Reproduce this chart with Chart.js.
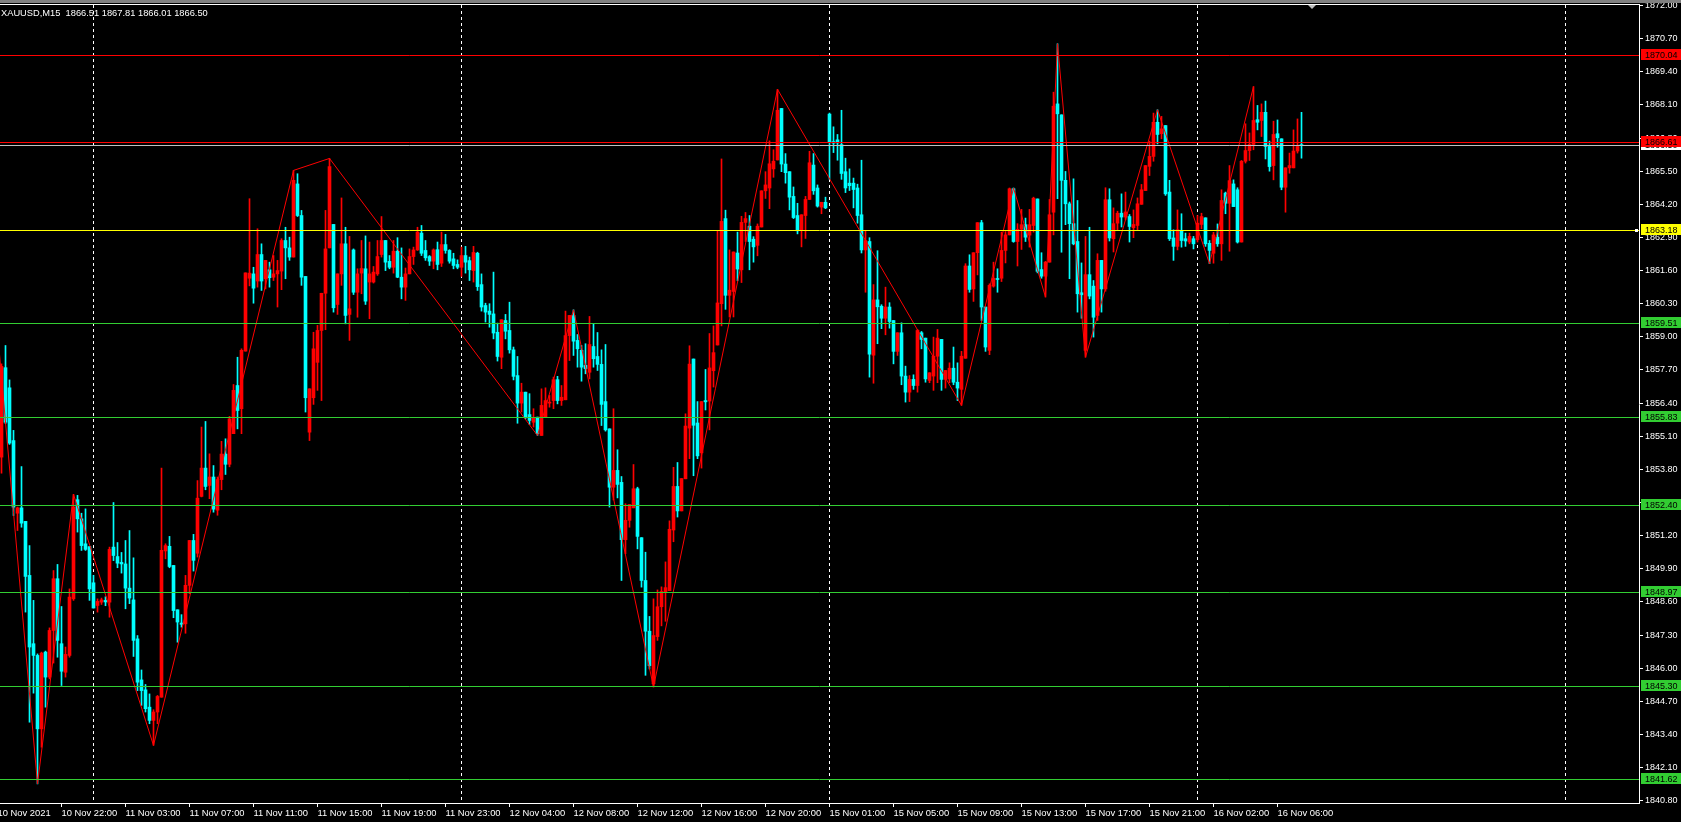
<!DOCTYPE html>
<html><head><meta charset="utf-8">
<script src="https://cdn.jsdelivr.net/npm/chart.js@4.4.0/dist/chart.umd.min.js"></script>
<style>html,body{margin:0;padding:0;background:#000;overflow:hidden}canvas{display:block}</style>
</head><body>
<canvas id="c" width="1681" height="822"></canvas>
<script>
const symbol = 'XAUUSD,M15';
const opens = [1854.28,1857.79,1857.00,1854.93,1852.08,1852.29,1851.76,1849.64,1846.96,1846.50,
1843.62,1846.63,1845.65,1847.48,1849.51,1846.96,1845.84,1846.50,1848.72,1852.61,
1851.86,1850.88,1850.77,1849.35,1848.46,1848.59,1848.66,1848.59,1850.75,1850.38,
1850.15,1850.09,1849.14,1848.68,1847.15,1845.54,1845.15,1844.47,1843.95,1844.28,
1844.86,1850.60,1850.78,1850.03,1848.29,1847.77,1847.74,1849.25,1851.01,1850.51,
1852.74,1853.85,1853.17,1853.50,1852.20,1853.40,1854.40,1854.00,1855.20,1857.09,
1856.18,1858.44,1861.30,1861.47,1861.19,1862.23,1861.28,1861.63,1861.34,1861.47,
1861.58,1862.78,1862.49,1862.13,1865.00,1863.76,1861.37,1855.26,1856.61,1858.00,
1859.25,1860.71,1862.49,1863.41,1860.27,1861.47,1862.65,1859.88,1862.41,1860.75,
1861.50,1861.67,1861.15,1861.15,1861.47,1862.23,1862.78,1861.96,1861.73,1862.36,
1861.34,1860.95,1861.47,1862.15,1862.41,1863.07,1862.39,1862.15,1861.97,1862.42,
1861.89,1862.62,1862.39,1862.06,1861.84,1861.73,1862.19,1861.99,1861.60,1862.28,
1861.05,1860.23,1860.01,1859.90,1859.18,1858.20,1859.64,1859.25,1858.49,1857.48,
1856.40,1856.83,1855.95,1855.65,1855.85,1855.13,1855.85,1856.40,1856.50,1857.32,
1856.50,1856.53,1859.05,1859.84,1858.86,1858.47,1857.88,1857.61,1858.62,1858.23,
1857.92,1856.46,1855.39,1853.10,1853.76,1853.29,1851.04,1851.80,1852.29,1853.04,
1851.12,1849.44,1847.45,1845.39,1847.24,1848.41,1848.97,1849.04,1851.42,1853.13,
1852.17,1853.43,1855.42,1858.13,1855.62,1854.45,1856.50,1856.48,1857.67,1858.68,
1860.30,1863.64,1860.63,1860.78,1862.29,1861.63,1863.49,1863.34,1862.83,1862.59,
1863.31,1864.73,1864.84,1865.59,1865.94,1867.96,1865.78,1865.48,1864.51,1863.76,
1863.19,1863.76,1864.39,1865.74,1864.84,1864.09,1864.28,1867.74,1866.66,1866.73,
1866.54,1865.48,1865.03,1865.03,1864.84,1863.79,1862.41,1862.74,1858.28,1860.45,
1860.20,1859.73,1860.17,1859.64,1858.43,1859.16,1857.46,1856.83,1857.33,1857.09,
1859.16,1858.95,1857.29,1857.46,1858.24,1858.90,1857.33,1857.35,1857.77,1857.22,
1856.94,1858.16,1861.78,1860.88,1862.30,1863.48,1860.17,1858.47,1860.99,1861.27,
1861.30,1862.39,1863.00,1864.81,1862.74,1863.22,1863.40,1862.99,1863.37,1864.41,
1861.64,1861.38,1861.93,1863.89,1868.14,1867.71,1865.14,1864.22,1863.44,1862.74,
1860.73,1858.47,1861.44,1860.99,1859.84,1862.00,1860.88,1864.38,1862.85,1863.46,
1863.85,1863.70,1863.72,1863.28,1863.37,1864.20,1864.74,1865.69,1866.08,1867.42,
1866.97,1867.29,1864.68,1862.88,1862.55,1863.15,1862.85,1862.72,1862.85,1862.81,
1863.41,1863.67,1862.67,1862.28,1862.91,1862.65,1864.64,1864.24,1865.00,1864.77,
1862.72,1865.89,1866.31,1866.55,1867.52,1867.49,1867.81,1866.47,1865.72,1866.97,
1866.77,1864.87,1865.63,1865.63,1866.29,1866.51];
const highs = [1857.94,1858.66,1857.31,1855.33,1852.32,1853.91,1851.76,1850.81,1848.66,1846.56,
1846.63,1846.67,1847.58,1849.83,1850.07,1848.42,1846.83,1849.11,1852.82,1852.78,
1852.08,1852.25,1850.77,1849.64,1848.72,1848.75,1848.80,1850.75,1852.50,1850.93,
1850.54,1851.01,1851.40,1850.33,1847.28,1845.93,1845.36,1844.99,1844.37,1844.93,
1853.85,1850.88,1851.17,1850.03,1848.29,1848.10,1849.64,1851.01,1851.25,1853.36,
1855.46,1855.68,1854.41,1853.95,1853.50,1854.90,1855.00,1855.88,1857.13,1858.20,
1858.53,1861.51,1864.42,1861.73,1863.24,1862.65,1862.00,1861.93,1862.19,1862.00,
1862.85,1863.30,1862.91,1865.53,1865.40,1863.96,1861.37,1856.96,1859.18,1859.45,
1860.71,1863.96,1866.00,1863.41,1861.47,1864.45,1863.30,1862.94,1862.45,1861.67,
1862.78,1862.96,1862.72,1861.76,1862.78,1863.72,1862.78,1862.19,1862.78,1862.89,
1862.49,1861.70,1862.45,1862.52,1863.30,1863.37,1862.78,1862.19,1862.45,1862.72,
1863.11,1863.02,1862.42,1862.28,1862.02,1862.52,1862.55,1862.13,1862.55,1862.32,
1861.47,1860.32,1860.30,1861.54,1859.54,1859.67,1859.88,1860.36,1858.60,1858.23,
1857.18,1856.83,1856.77,1856.18,1855.85,1856.96,1857.00,1856.70,1857.42,1857.45,
1857.09,1860.01,1859.84,1860.06,1859.09,1858.66,1858.73,1859.80,1859.51,1859.17,
1858.49,1858.70,1855.39,1856.18,1854.57,1853.52,1852.45,1852.42,1853.99,1853.10,
1851.12,1850.55,1848.03,1848.72,1849.07,1849.19,1850.17,1851.78,1853.88,1854.07,
1853.44,1855.98,1858.65,1858.13,1856.46,1856.46,1857.72,1859.13,1859.43,1863.16,
1865.98,1863.97,1862.41,1862.33,1863.11,1863.73,1863.88,1863.76,1862.93,1863.43,
1864.73,1865.48,1866.69,1866.34,1868.71,1867.96,1866.19,1865.48,1864.88,1864.24,
1863.79,1864.51,1866.28,1866.19,1864.96,1864.28,1864.48,1867.78,1867.24,1866.94,
1867.89,1866.01,1865.59,1865.23,1864.99,1865.93,1863.16,1862.89,1861.05,1862.38,
1860.26,1860.95,1860.34,1859.64,1859.16,1859.55,1857.85,1857.48,1857.51,1859.29,
1859.21,1858.95,1857.59,1858.99,1859.29,1858.90,1857.68,1857.98,1858.60,1857.98,
1858.43,1861.87,1862.22,1862.30,1863.48,1863.57,1860.17,1861.08,1861.93,1861.67,
1863.11,1863.13,1864.84,1864.84,1863.44,1864.00,1863.66,1864.00,1864.48,1864.41,
1862.30,1861.96,1864.39,1868.60,1870.50,1867.71,1865.49,1864.29,1865.20,1864.35,
1861.90,1862.94,1863.30,1861.21,1862.26,1862.00,1864.85,1864.81,1864.06,1863.93,
1864.61,1864.68,1863.80,1863.98,1864.45,1864.98,1865.72,1866.68,1867.78,1867.91,
1867.65,1867.29,1865.14,1863.20,1863.98,1863.83,1863.07,1863.07,1862.94,1863.76,
1863.85,1863.67,1862.78,1863.10,1863.43,1864.77,1864.68,1865.72,1865.16,1864.85,
1865.92,1867.36,1867.00,1868.82,1868.08,1868.14,1868.25,1866.68,1867.46,1867.51,
1866.77,1865.63,1866.21,1867.12,1867.55,1867.81];
const lows = [1853.65,1855.59,1854.78,1851.99,1851.40,1851.53,1848.20,1843.88,1845.02,1841.46,
1842.90,1844.47,1845.58,1846.20,1846.43,1845.32,1845.65,1846.43,1848.66,1851.34,
1850.62,1850.62,1848.66,1848.36,1848.20,1848.50,1848.45,1848.00,1850.22,1849.94,
1849.73,1848.33,1848.53,1846.46,1845.12,1844.54,1844.28,1843.82,1842.97,1843.82,
1844.86,1850.29,1849.94,1847.98,1847.02,1847.61,1847.37,1848.92,1849.81,1850.36,
1852.72,1853.00,1852.65,1852.12,1852.00,1853.00,1853.60,1853.90,1855.20,1855.39,
1855.20,1858.44,1861.00,1860.32,1860.95,1860.82,1860.88,1860.95,1861.21,1860.17,
1860.85,1861.28,1862.00,1862.13,1863.72,1861.02,1856.05,1854.93,1856.35,1856.90,
1856.50,1859.28,1862.49,1859.97,1859.88,1861.02,1859.51,1858.86,1860.66,1859.77,
1860.69,1860.27,1859.71,1861.11,1861.41,1862.13,1861.60,1861.67,1861.50,1861.32,
1860.49,1860.43,1861.47,1861.84,1862.39,1862.19,1862.00,1861.80,1861.67,1861.63,
1861.76,1862.28,1861.89,1861.67,1861.67,1861.37,1861.50,1861.21,1861.15,1860.82,
1860.01,1859.58,1859.38,1858.92,1858.05,1857.75,1858.92,1858.36,1857.31,1855.61,
1856.05,1855.78,1855.56,1855.46,1855.13,1855.13,1855.85,1856.24,1856.18,1856.37,
1856.31,1856.53,1858.07,1858.27,1857.81,1857.26,1857.55,1857.35,1857.81,1857.68,
1855.52,1855.30,1852.32,1852.60,1852.68,1849.44,1850.49,1851.53,1852.29,1850.68,
1849.18,1845.72,1845.97,1845.26,1847.09,1847.66,1847.84,1849.04,1850.96,1851.93,
1852.17,1853.43,1854.22,1853.55,1854.22,1853.85,1856.13,1855.35,1857.03,1858.68,
1859.43,1860.08,1859.78,1859.78,1861.20,1861.13,1862.74,1861.63,1861.93,1862.18,
1863.31,1864.43,1864.03,1865.26,1865.94,1865.48,1865.03,1863.98,1863.64,1863.04,
1862.53,1862.86,1864.39,1864.59,1864.09,1863.83,1864.03,1865.18,1866.23,1865.93,
1865.18,1864.66,1864.74,1864.06,1863.46,1862.29,1860.75,1857.42,1857.18,1858.73,
1859.32,1859.08,1859.34,1857.94,1858.27,1857.12,1856.44,1856.46,1856.94,1856.83,
1858.53,1857.22,1857.20,1856.90,1857.20,1856.90,1856.99,1857.20,1857.12,1856.50,
1856.31,1858.16,1860.75,1860.39,1861.43,1859.64,1858.43,1858.30,1860.95,1860.75,
1861.17,1861.90,1863.00,1862.71,1861.78,1862.43,1862.74,1862.52,1863.11,1861.51,
1861.30,1860.56,1861.93,1863.00,1864.42,1862.32,1863.40,1861.28,1862.61,1859.97,
1859.73,1858.20,1860.49,1858.99,1859.64,1859.97,1860.79,1862.76,1862.33,1863.17,
1863.31,1863.59,1862.72,1862.89,1863.20,1864.20,1864.74,1865.33,1865.89,1866.57,
1866.77,1864.55,1862.78,1862.00,1862.41,1862.52,1862.55,1862.65,1862.45,1862.72,
1863.24,1862.55,1861.87,1861.89,1862.55,1862.00,1863.83,1862.36,1864.11,1862.68,
1862.72,1865.82,1865.92,1866.34,1867.12,1866.86,1865.98,1865.50,1865.16,1866.44,
1864.77,1863.89,1865.42,1865.63,1866.21,1866.01];
const closes = [1857.84,1855.65,1854.83,1852.32,1852.29,1851.69,1849.60,1846.83,1846.50,1843.62,
1846.59,1845.65,1847.48,1849.51,1847.09,1845.88,1846.54,1848.79,1852.32,1851.86,
1850.81,1850.66,1849.11,1848.36,1848.62,1848.68,1848.60,1850.66,1850.42,1850.12,
1850.09,1849.14,1848.75,1847.09,1845.45,1845.12,1844.41,1843.95,1844.28,1844.89,
1850.62,1850.81,1849.99,1848.26,1847.81,1847.72,1849.25,1851.01,1850.23,1852.67,
1853.85,1853.13,1853.50,1852.24,1853.40,1854.40,1854.00,1855.78,1856.90,1856.11,
1858.47,1861.51,1861.50,1860.91,1862.23,1861.19,1862.00,1861.32,1861.47,1861.60,
1862.78,1862.49,1862.13,1865.14,1863.76,1861.34,1856.61,1856.96,1858.53,1859.25,
1860.71,1862.45,1865.68,1860.14,1861.47,1862.65,1859.84,1860.10,1860.75,1861.47,
1861.68,1860.40,1861.47,1861.54,1862.15,1862.78,1861.93,1861.73,1862.36,1861.34,
1860.95,1861.47,1862.15,1862.41,1863.11,1862.28,1862.10,1861.97,1862.41,1861.84,
1862.62,1862.39,1861.97,1861.80,1861.73,1862.19,1861.93,1861.63,1862.31,1860.97,
1860.17,1859.97,1859.88,1859.15,1858.23,1859.67,1859.22,1858.49,1857.45,1856.40,
1856.83,1855.85,1855.72,1855.82,1855.20,1856.31,1856.50,1856.42,1857.32,1856.50,
1856.63,1859.05,1859.84,1858.83,1858.53,1857.81,1857.75,1858.70,1858.14,1857.92,
1856.35,1855.35,1853.10,1853.76,1853.21,1851.04,1851.80,1852.42,1853.04,1851.17,
1849.44,1847.45,1846.10,1847.28,1848.41,1849.01,1849.16,1851.45,1853.13,1852.17,
1853.44,1855.50,1857.93,1855.53,1854.33,1856.46,1856.45,1857.78,1858.38,1860.33,
1863.53,1860.63,1860.83,1862.33,1861.66,1863.49,1863.64,1862.74,1862.53,1863.34,
1864.73,1864.96,1865.79,1865.89,1867.89,1865.78,1865.44,1864.48,1863.68,1863.16,
1863.79,1864.39,1865.83,1864.73,1864.13,1864.28,1864.06,1866.64,1866.60,1866.61,
1865.41,1864.84,1864.93,1864.78,1863.76,1862.41,1862.78,1858.32,1860.45,1860.18,
1859.73,1860.17,1859.60,1858.43,1859.16,1857.46,1856.83,1857.33,1857.09,1859.25,
1858.90,1857.35,1857.59,1858.24,1858.95,1857.33,1857.68,1857.77,1857.22,1856.99,
1858.24,1861.78,1860.86,1862.30,1863.48,1860.17,1858.60,1861.02,1861.30,1861.25,
1862.39,1863.00,1864.81,1862.74,1863.22,1863.40,1862.91,1863.40,1864.44,1861.57,
1861.38,1861.93,1863.79,1868.05,1867.75,1865.14,1864.22,1863.44,1862.65,1860.69,
1860.65,1861.44,1860.60,1859.77,1862.00,1860.88,1864.38,1862.88,1863.44,1863.85,
1863.70,1863.90,1863.33,1863.41,1864.22,1864.77,1865.72,1866.08,1867.42,1866.94,
1867.16,1864.61,1862.85,1862.55,1863.20,1862.78,1862.76,1862.94,1862.65,1863.46,
1863.72,1862.65,1862.39,1863.00,1862.65,1864.35,1864.24,1865.13,1864.11,1862.72,
1865.89,1866.31,1866.55,1867.49,1867.42,1867.81,1866.47,1865.68,1866.94,1866.81,
1864.87,1865.63,1865.72,1866.29,1866.47,1866.50];

const zigzagBars   = [-1, 9, 18, 38, 73, 82, 134, 143, 163, 194, 240, 253, 261, 264, 271, 289, 302, 313];
const zigzagPrices = [1859.20, 1841.46, 1852.82, 1842.97, 1865.53, 1866.00, 1855.13, 1860.06, 1845.26, 1868.71, 1856.31, 1864.84, 1860.56, 1870.50, 1858.20, 1867.91, 1861.87, 1868.82];

const resistanceLevels = [1870.04, 1866.61];
const pivotLevels = [1863.18];
const supportLevels = [1859.51, 1855.83, 1852.40, 1848.97, 1845.30, 1841.62];

const timeLabels = ['10 Nov 2021','10 Nov 22:00','11 Nov 03:00','11 Nov 07:00','11 Nov 11:00','11 Nov 15:00','11 Nov 19:00','11 Nov 23:00','12 Nov 04:00','12 Nov 08:00','12 Nov 12:00','12 Nov 16:00','12 Nov 20:00','15 Nov 01:00','15 Nov 05:00','15 Nov 09:00','15 Nov 13:00','15 Nov 17:00','15 Nov 21:00','16 Nov 02:00','16 Nov 06:00'];
const timeLabelBars = [-1,15,31,47,63,79,95,111,127,143,159,175,191,207,223,239,255,271,287,303,319];
const gridBars = [23,115,207,299,391];
const priceTicks = [1840.80,1842.10,1843.40,1844.70,1846.00,1847.30,1848.60,1849.90,1851.20,1852.50,1853.80,1855.10,1856.40,1857.70,1859.00,1860.30,1861.60,1862.90,1864.20,1865.50,1866.80,1868.10,1869.40,1870.70,1872.00];

const RED = '#ff0000', CYAN = '#00ffff', GREEN = '#32cd32', YELLOW = '#ffff00', SILVER = '#c0c0c0';
const FONT = '"Liberation Sans", Arial, sans-serif';
const N = opens.length;
const last = N - 1;
const bull = i => closes[i] >= opens[i];
const candleColor = c => bull(c.dataIndex) ? RED : CYAN;

const overlay = {
  id: 'mt4',
  beforeDraw(chart) {
    const {ctx, width, height} = chart;
    ctx.save(); ctx.fillStyle = '#000'; ctx.fillRect(0, 0, width, height); ctx.restore();
  },
  beforeDatasetsDraw(chart) {
    const {ctx, chartArea: a, scales: {x}} = chart;
    ctx.save();
    ctx.strokeStyle = '#ffffff'; ctx.lineWidth = 1; ctx.setLineDash([3, 3]);
    gridBars.forEach(b => {
      const px = Math.floor(x.getPixelForValue(b)) + 0.5;
      if (px < a.left || px > a.right) return;
      ctx.beginPath(); ctx.moveTo(px, a.top); ctx.lineTo(px, a.bottom); ctx.stroke();
    });
    ctx.restore();
  },
  afterDatasetsDraw(chart) {
    const {ctx, chartArea: a, scales: {y}} = chart;
    ctx.save(); ctx.lineWidth = 1;
    const hline = (v, col) => {
      const py = Math.floor(y.getPixelForValue(v)) + 0.5;
      ctx.strokeStyle = col; ctx.beginPath(); ctx.moveTo(a.left, py); ctx.lineTo(a.right, py); ctx.stroke();
    };
    hline(closes[last], SILVER);
    resistanceLevels.forEach(v => hline(v, RED));
    pivotLevels.forEach(v => hline(v, YELLOW));
    supportLevels.forEach(v => hline(v, GREEN));
    ctx.restore();
  },
  afterDraw(chart) {
    const {ctx, chartArea: a, scales: {x, y}, width} = chart;
    ctx.save();
    ctx.fillStyle = '#808080'; ctx.fillRect(0, 0, width, 3);
    ctx.fillStyle = '#ffffff'; ctx.fillRect(0, 4, a.right + 1, 1);
    const box = (v, bg) => {
      const row = Math.floor(y.getPixelForValue(v));
      ctx.fillStyle = bg; ctx.fillRect(a.right + 2, row - 6, width - a.right - 2, 11);
      ctx.fillStyle = '#000'; ctx.font = '9px ' + FONT; ctx.textBaseline = 'middle'; ctx.textAlign = 'left';
      ctx.fillText(v.toFixed(2), a.right + 6, row + 0.5);
    };
    box(closes[last], '#ffffff');
    resistanceLevels.forEach(v => box(v, RED));
    pivotLevels.forEach(v => box(v, YELLOW));
    supportLevels.forEach(v => box(v, GREEN));
    pivotLevels.forEach(v => {
      const row = Math.floor(y.getPixelForValue(v));
      ctx.fillStyle = '#ffffff'; ctx.fillRect(a.right - 4, row - 1, 3, 3);
    });
    const sx = Math.round(x.getPixelForValue(N + 1.6));
    ctx.fillStyle = '#c0c0c0';
    ctx.beginPath(); ctx.moveTo(sx - 4, 5); ctx.lineTo(sx + 4, 5); ctx.lineTo(sx, 9); ctx.closePath(); ctx.fill();
    ctx.fillStyle = '#ffffff'; ctx.font = '9.3px ' + FONT; ctx.textBaseline = 'alphabetic'; ctx.textAlign = 'left';
    ctx.fillText(symbol + '  ' + [opens[last], highs[last], lows[last], closes[last]].map(v => v.toFixed(2)).join(' '), 1, 16);
    ctx.restore();
  }
};

new Chart(document.getElementById('c'), {
  type: 'bar',
  data: {
    datasets: [
      { type: 'line', data: zigzagBars.map((b, k) => ({x: b, y: zigzagPrices[k]})), borderColor: RED, borderWidth: 1, pointRadius: 0, tension: 0, order: 0 },
      { data: opens.map((o, i) => ({x: i, y: [o, closes[i]]})), backgroundColor: candleColor, borderWidth: 0, barThickness: 3, grouped: false, minBarLength: 1, order: 1 },
      { data: opens.map((o, i) => ({x: i, y: [lows[i], highs[i]]})), backgroundColor: candleColor, borderWidth: 0, barThickness: 1, grouped: false, order: 2 }
    ]
  },
  options: {
    responsive: false, animation: false, devicePixelRatio: 1,
    layout: { padding: { top: 5, left: 0, right: 0, bottom: 0 } },
    plugins: { legend: { display: false }, tooltip: { enabled: false } },
    scales: {
      x: {
        type: 'linear', min: -0.375, max: 409.375, offset: false,
        afterBuildTicks: s => { s.ticks = timeLabelBars.map(v => ({value: v})); },
        afterFit: s => { s.height = 19; s.paddingLeft = 0; s.paddingRight = 0; },
        grid: { drawOnChartArea: false, drawTicks: true, tickLength: 4, tickColor: '#ffffff', offset: false },
        border: { display: true, color: '#ffffff', width: 1 },
        ticks: { autoSkip: false, maxRotation: 0, minRotation: 0, align: 'start', color: '#ffffff', padding: 1,
                 font: { family: FONT, size: 9.4 }, callback: (v, i) => timeLabels[i] }
      },
      y: {
        position: 'right', min: 1840.71, max: 1872.02,
        afterBuildTicks: s => { s.ticks = priceTicks.map(v => ({value: v})); },
        afterFit: s => { s.width = 42; s.paddingTop = 0; s.paddingBottom = 0; },
        grid: { drawOnChartArea: false, drawTicks: true, tickLength: 4, tickColor: '#ffffff' },
        border: { display: true, color: '#ffffff', width: 1 },
        ticks: { color: '#ffffff', padding: 2, crossAlign: 'near', font: { family: FONT, size: 9 }, callback: v => Number(v).toFixed(2) }
      }
    }
  },
  plugins: [overlay]
});
</script>
</body></html>
